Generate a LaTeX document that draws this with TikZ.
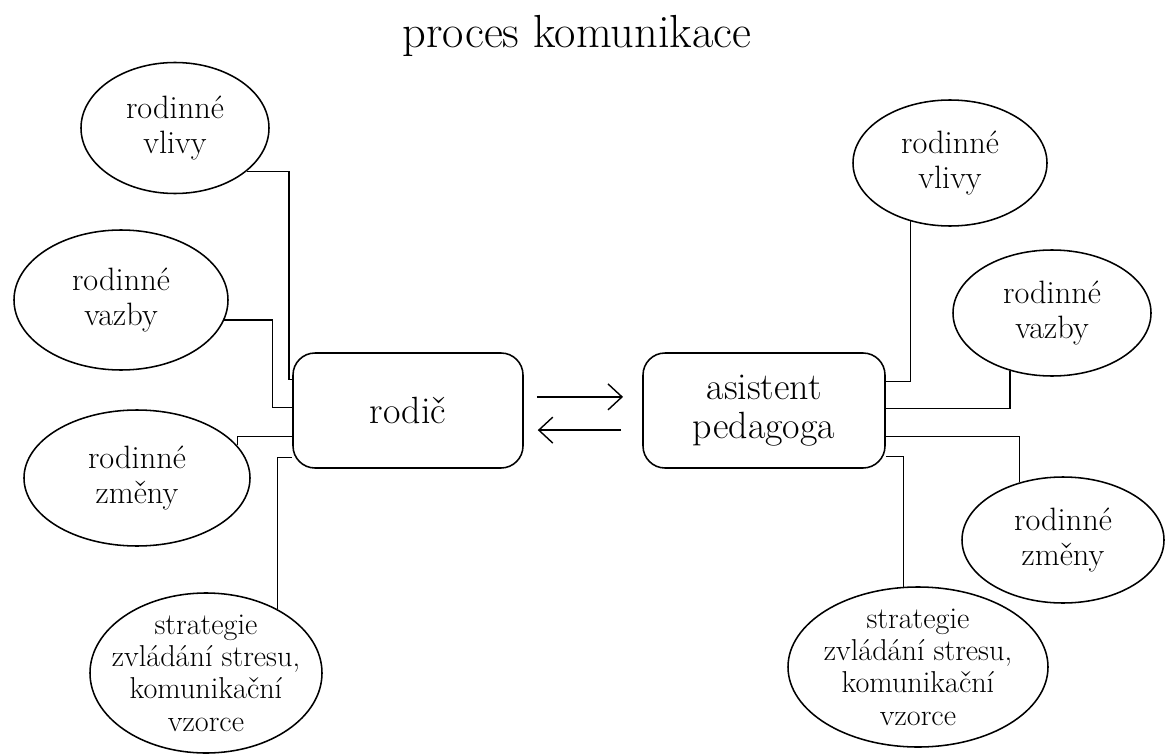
\documentclass[tikz,border=0pt]{standalone}
\usepackage{tikz}
\usetikzlibrary{shapes.geometric, arrows.meta, calc}

\tikzset{
  bubble/.style={draw, ellipse, line width=1.1pt, inner sep=0pt},
  bubtext/.style={align=center, font=\fontsize{23}{24.5}\selectfont},
  card/.style={draw, rounded corners=0.55cm, line width=1.1pt, minimum height=2.875cm, align=center, font=\fontsize{27}{28}\selectfont},
  link/.style={line width=0.9pt},
  flow/.style={line width=1pt, -{Straight Barb[length=3.5mm,width=6.5mm]}}
}

\begin{document}
\begin{tikzpicture}
	\useasboundingbox (0,0) rectangle (29.15,-18.85);
	\node[font=\fontsize{33}{38}\selectfont, anchor=base] (title) at (14.425,-1.2) {proces komunikace};
	% the two sides
	\node[card, minimum width=5.75cm] (rodic) at (10.2,-10.2625) {rodič};
	\node[card, minimum width=6.05cm] (asistent) at (19.1,-10.2625) {asistent\\pedagoga};
	\draw[flow] ($(rodic.east)+(0.33,0.34)$) -- ($(asistent.west)+(-0.48,0.34)$);
	\draw[flow] ($(asistent.west)+(-0.53,-0.49)$) -- ($(rodic.east)+(0.35,-0.49)$);
	% left hand
	\node[bubble, minimum width=4.7cm, minimum height=3.275cm, label={[bubtext]center:{rodinné\\vlivy}}] (vlivyL) at (4.375,-3.2) {};
	\node[bubble, minimum width=5.35cm, minimum height=3.5cm, label={[bubtext]center:{rodinné\\vazby}}] (vazbyL) at (3.025,-7.5) {};
	\node[bubble, minimum width=5.65cm, minimum height=3.4cm, label={[bubtext]center:{rodinné\\změny}}] (zmenyL) at (3.425,-11.95) {};
	\node[bubble, minimum width=5.8cm, minimum height=4cm, label={[bubtext, font=\fontsize{21.5}{23}\selectfont]center:{strategie\\zvládání stresu,\\komunikační\\vzorce}}] (strategieL) at (5.15,-16.825) {};
	\draw[link] ([yshift=-0.675cm]rodic.north west) -- ++(-0.08,0) |- (vlivyL.-31);
	\draw[link] ([yshift=-1.375cm]rodic.north west) -- ++(-0.5,0) |- (vazbyL.-11);
	\draw[link] ([yshift=-2.1cm]rodic.north west) -| (zmenyL.18);
	\draw[link] ([yshift=-2.625cm]rodic.north west) -| (strategieL.42);
	% right hand
	\node[bubble, minimum width=4.85cm, minimum height=3.15cm, label={[bubtext]center:{rodinné\\vlivy}}] (vlivyR) at (23.75,-4.075) {};
	\node[bubble, minimum width=4.95cm, minimum height=3.15cm, label={[bubtext]center:{rodinné\\vazby}}] (vazbyR) at (26.3,-7.825) {};
	\node[bubble, minimum width=5.05cm, minimum height=3.15cm, label={[bubtext]center:{rodinné\\změny}}] (zmenyR) at (26.575,-13.5) {};
	\node[bubble, minimum width=6.5cm, minimum height=4cm, label={[bubtext, font=\fontsize{21.5}{23}\selectfont]center:{strategie\\zvládání stresu,\\komunikační\\vzorce}}] (strategieR) at (22.95,-16.675) {};
	\draw[link] ([yshift=-0.725cm]asistent.north east) -| (vlivyR.-124);
	\draw[link] ([yshift=-1.4cm]asistent.north east) -| (vazbyR.-126);
	\draw[link] ([yshift=-2.1cm]asistent.north east) -| (zmenyR.127);
	\draw[link] ([yshift=-2.6cm]asistent.north east) -| (strategieR.100);
\end{tikzpicture}
\end{document}
